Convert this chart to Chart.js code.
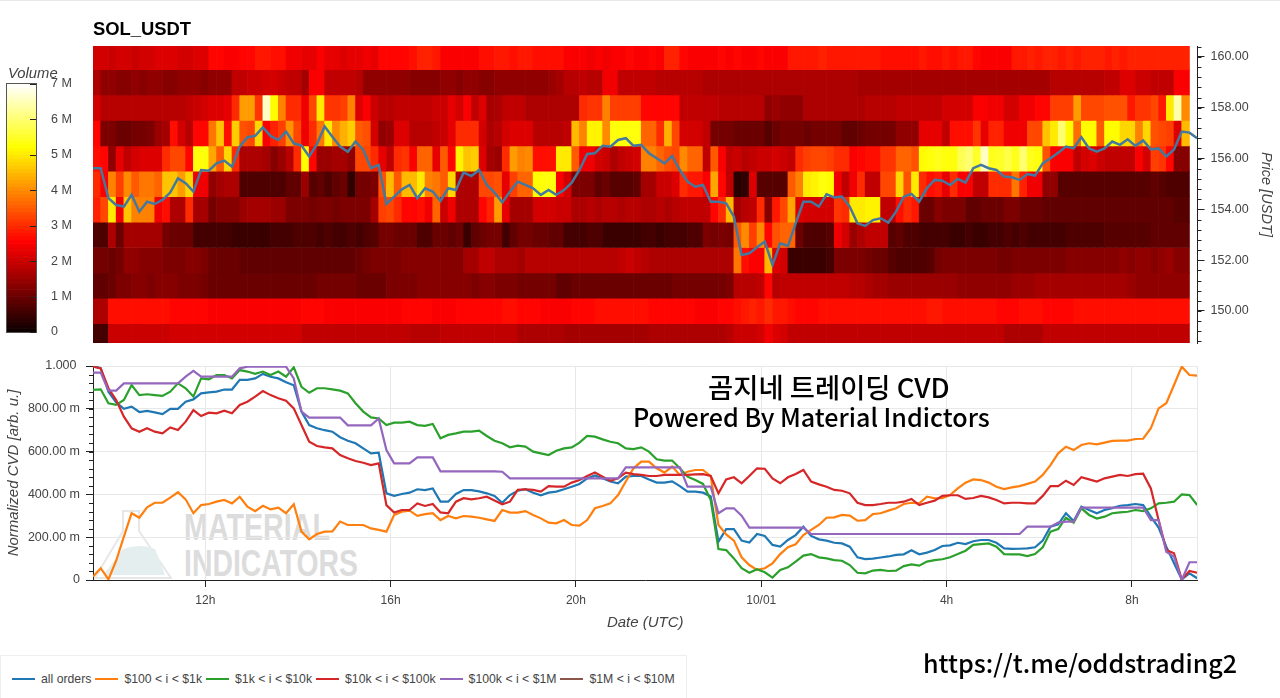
<!DOCTYPE html>
<html>
<head>
<meta charset="utf-8">
<title>SOL_USDT</title>
<script src="https://cdn.jsdelivr.net/npm/chart.js@4/dist/chart.umd.min.js"></script>
<style>
  html, body { margin: 0; padding: 0; background: #fff; width: 1280px; height: 698px; overflow: hidden; font-family: "Liberation Sans", sans-serif; }
  canvas, .txt, #leyenda, #marca, #franja { position: absolute; }
  #franja { left: 0; top: 0; width: 1280px; height: 1px; background: #e8e8e8; }
  #grafPrecio { left: 0; top: 0; z-index: 2; }
  #grafBarra { left: 0; top: 0; z-index: 3; }
  #grafCvd { left: 0; top: 350px; z-index: 2; }
  #marca { left: 93px; top: 505px; width: 300px; height: 76px; z-index: 1; }
  .txt { z-index: 4; white-space: nowrap; color: #000; }
  #titulo { left: 93px; top: 18px; font-size: 18.4px; font-weight: bold; }
  #volumen { left: 8px; top: 65px; font-size: 14.8px; font-style: italic; color: #444; }
  .cjk { font-family: "Noto Sans CJK KR", "Noto Sans", sans-serif; font-weight: 500; }
  #leyenda { left: 0; top: 655px; width: 687px; height: 43px; box-sizing: border-box; border: 1px solid #eee; border-bottom: 0; display: flex; align-items: center; padding: 3px 0 0 11px; font-size: 12.25px; color: #444; z-index: 4; }
  #leyenda i { display: inline-block; width: 23px; height: 2px; margin-right: 6px; }
  #leyenda span { margin-right: 4px; white-space: nowrap; }
</style>
</head>
<body>
<div id="franja"></div>
<div class="txt" id="titulo">SOL_USDT</div>
<div class="txt" id="volumen">Volume</div>
<svg id="marca" viewBox="0 0 300 76">
  <path d="M30 6 H46 V26 L78 73 H2 L30 26 Z" fill="none" stroke="#e6e8e8" stroke-width="2"/>
  <path d="M12 68 L30 44 Q48 38 62 44 L72 70 H10 Z" fill="#e4eeee"/>
  <text x="91" y="35" font-family="Liberation Sans" font-weight="bold" font-size="37" fill="#dcdcdc" textLength="146" lengthAdjust="spacingAndGlyphs">MATERIAL</text>
  <text x="91" y="71" font-family="Liberation Sans" font-weight="bold" font-size="37" fill="#dcdcdc" textLength="174" lengthAdjust="spacingAndGlyphs">INDICATORS</text>
</svg>
<canvas id="grafPrecio" width="1280" height="350"></canvas>
<canvas id="grafBarra" width="90" height="350"></canvas>
<canvas id="grafCvd" width="1280" height="300"></canvas>
<div class="txt cjk" style="left:708px;top:368px;font-size:27.4px;line-height:36px;">곰지네 트레이딩 CVD</div>
<div class="txt cjk" style="left:633px;top:398px;font-size:25.1px;line-height:36px;">Powered By Material Indictors</div>
<div class="txt cjk" style="left:923px;top:643px;font-size:25.1px;line-height:38px;">https://t.me/oddstrading2</div>
<div id="leyenda"></div>

<script>
// filas del mapa de calor, volumen en millones, una columna cada 10 min
const priceLevels = [160,159,158,157,156,155,154,153,152,151,150,149];

const row160 = [
2.1,2.1,2.0,2.1,2.1,2.0,2.1,2.1,2.2,2.2,
2.2,2.1,2.1,2.2,2.2,2.6,2.6,2.5,2.5,2.6,
2.6,2.8,2.8,2.7,2.7,2.4,2.4,2.3,2.3,2.5,
2.3,2.3,2.2,2.3,2.3,2.4,2.3,2.6,2.6,2.6,
2.6,2.7,2.9,2.9,2.8,2.5,2.5,2.5,2.5,2.5,
2.7,2.7,2.8,2.8,2.7,2.8,2.8,2.7,2.7,2.7,
2.7,2.5,2.5,2.5,2.4,2.5,2.4,2.5,2.5,2.6,
2.5,2.5,2.6,2.5,2.9,2.9,2.6,2.5,2.5,2.5,
2.5,2.6,2.5,2.6,2.5,2.5,2.6,2.5,2.5,2.5,
2.8,2.8,2.8,2.8,2.9,2.8,2.8,2.8,2.8,2.8,
2.8,2.8,2.7,2.7,2.7,2.7,2.7,2.8,2.7,2.7,
2.8,2.7,2.8,2.8,2.6,2.5,2.5,2.5,2.5,2.8,
2.8,2.9,2.8,2.9,2.9,2.8,2.9,2.8,2.9,2.9,
2.9,2.8,2.9,2.8,2.9,2.9,2.9,2.9,2.9,2.9,
2.9,2.9];
const row159 = [
1.7,1.4,1.4,1.3,1.3,1.4,1.3,1.4,1.4,1.3,
1.3,1.4,1.4,1.4,1.3,1.4,1.4,1.4,1.9,1.9,
2.0,2.0,2.1,2.1,2.0,1.9,1.9,1.6,2.5,2.5,
1.9,1.9,1.9,1.9,1.8,1.4,1.4,1.4,1.4,1.4,
1.4,1.3,1.3,1.3,1.3,1.4,1.4,1.3,1.4,1.4,
1.3,1.3,1.4,1.4,1.4,1.4,1.4,1.4,1.4,1.5,
1.6,1.8,1.8,1.9,1.8,1.8,2.4,2.4,1.9,1.9,
1.9,1.9,1.9,1.8,1.8,1.8,1.8,1.8,1.8,1.7,
1.7,1.7,1.7,1.7,1.7,1.7,1.7,1.7,1.7,1.7,
1.7,1.7,1.7,1.7,1.7,1.7,1.7,1.7,1.7,1.6,
1.6,1.6,1.6,1.6,1.6,1.6,1.6,1.6,1.6,1.6,
1.6,1.6,1.6,1.6,1.6,1.6,1.6,1.6,1.6,1.6,
1.6,1.6,1.6,1.6,1.8,1.8,1.8,1.8,1.8,1.8,
1.8,1.9,1.9,2.2,2.2,2.0,2.0,1.9,1.9,1.9,
2.5,2.5];
const row158 = [
2.1,1.8,1.8,1.8,1.8,1.8,1.8,1.8,1.8,1.8,
1.8,1.8,1.9,2.0,2.1,2.2,2.2,2.3,3.0,4.2,
4.2,3.1,6.6,5.2,3.9,3.0,3.0,2.4,3.3,5.0,
3.1,3.1,3.2,3.9,2.2,2.5,2.0,1.8,1.8,1.9,
1.9,1.9,1.9,1.9,2.0,2.0,2.3,2.1,2.5,1.9,
2.2,1.6,1.7,1.9,1.9,1.9,1.7,1.7,1.7,1.7,
1.7,1.7,1.7,3.0,3.1,3.1,3.9,3.2,3.2,3.2,
3.2,2.6,2.6,2.6,2.6,2.6,1.9,1.9,1.9,1.9,
1.9,1.8,1.8,1.8,1.8,1.8,1.8,1.4,1.5,1.4,
1.4,1.4,1.7,1.7,1.7,1.7,1.7,1.7,1.7,1.7,
1.8,1.8,1.8,1.8,1.9,1.9,1.9,1.9,1.9,1.9,
2.1,2.1,2.1,2.1,2.5,2.5,2.4,2.4,2.1,2.1,
2.4,2.4,2.6,2.6,3.2,3.2,3.2,4.2,3.3,3.3,
3.3,3.4,3.4,3.4,2.8,3.1,3.1,3.3,2.8,5.0,
6.4,4.0];
const row157 = [
2.6,1.2,1.2,1.0,1.0,1.1,1.1,1.2,1.5,1.6,
2.7,2.1,1.8,2.6,2.6,3.8,4.6,2.7,4.7,3.4,
3.3,4.8,2.5,2.9,3.2,4.1,3.3,2.4,3.0,3.8,
5.0,4.0,4.4,4.7,3.5,3.4,2.1,1.4,1.5,2.2,
2.2,1.8,1.8,1.8,1.9,2.0,2.3,3.0,3.0,3.0,
2.1,1.7,1.8,2.1,2.2,2.2,2.2,1.8,1.8,1.8,
1.8,1.9,4.5,3.9,5.1,5.1,4.0,5.3,5.3,5.3,
5.3,3.6,3.6,3.0,4.4,3.3,2.1,2.1,2.1,1.9,
1.1,1.1,1.1,1.0,1.0,1.0,1.0,0.8,1.0,1.1,
1.1,1.1,1.0,1.1,1.1,1.1,1.1,0.9,0.9,1.0,
1.1,1.1,1.1,1.1,1.4,1.4,1.4,2.3,2.3,2.3,
1.9,2.7,2.7,2.7,3.1,2.3,2.9,2.9,2.4,2.4,
2.4,3.3,3.3,4.6,5.0,6.0,5.2,3.7,5.2,5.2,
3.5,5.2,5.2,4.8,4.8,3.9,4.8,3.4,3.3,3.2,
2.2,4.5];
const row156 = [
2.7,2.6,1.4,2.3,1.9,2.1,2.2,2.2,2.2,3.0,
3.3,3.3,2.6,5.3,5.3,4.3,3.5,4.8,3.0,1.7,
1.7,1.7,1.6,1.3,1.5,1.8,3.0,5.2,2.6,1.5,
1.5,1.6,1.6,1.4,3.3,3.3,3.0,2.3,1.9,3.0,
3.1,2.5,3.6,3.6,2.3,3.5,2.6,5.1,4.6,4.7,
2.2,1.6,1.5,3.0,4.2,3.9,4.0,2.7,2.7,2.7,
5.0,5.0,3.5,2.4,2.4,2.1,2.0,1.7,1.9,2.0,
2.1,3.9,3.9,3.6,3.4,3.3,4.0,3.6,3.6,1.9,
3.5,2.5,1.9,2.0,1.8,1.9,2.0,2.0,2.1,2.0,
1.9,3.0,3.2,3.3,3.3,3.2,3.0,3.0,2.5,2.6,
2.7,2.7,3.1,3.1,3.6,3.6,3.4,5.2,5.3,5.4,
5.3,5.3,5.8,6.0,5.5,6.6,5.4,5.5,5.7,5.4,
6.0,5.4,5.3,3.4,2.5,2.5,2.5,1.9,2.1,2.2,
2.0,1.9,1.9,1.9,1.9,2.5,2.1,3.2,3.1,2.6,
1.3,1.3];
const row155 = [
3.0,2.5,3.9,3.2,4.0,3.5,3.8,3.8,3.6,4.6,
4.6,4.2,4.8,2.4,2.4,1.4,1.6,1.7,1.7,0.7,
0.7,0.7,0.7,0.7,0.7,0.9,0.9,1.5,0.8,0.9,
0.7,0.9,1.0,0.4,1.1,1.1,1.2,3.4,4.5,3.5,
4.5,4.5,5.0,3.9,3.8,3.5,4.8,1.7,1.7,1.7,
3.3,3.3,3.4,2.3,3.2,3.6,3.6,5.2,5.3,5.3,
2.5,2.1,1.2,1.2,1.2,0.9,1.0,0.8,0.8,0.8,
0.9,1.6,1.6,2.0,2.0,2.2,3.0,2.8,2.8,2.5,
4.3,2.6,1.9,0.3,0.4,2.2,0.8,0.8,0.8,0.8,
3.5,3.9,5.0,5.1,5.3,5.2,2.4,1.9,2.4,3.0,
1.9,1.9,3.3,3.3,4.8,3.4,5.0,3.0,2.7,2.8,
2.3,3.0,2.5,2.5,1.9,1.9,3.0,3.0,3.0,3.8,
2.9,2.4,2.4,1.4,1.4,0.8,0.8,0.8,0.8,0.8,
0.8,0.8,0.8,0.8,0.8,0.8,0.8,0.9,0.8,0.7,
0.7,0.7];
const row154 = [
2.9,3.3,5.0,2.4,4.6,3.9,3.9,3.9,2.4,2.7,
1.7,1.7,3.0,1.6,1.6,1.1,1.3,1.3,1.3,1.5,
1.6,1.6,1.6,1.5,1.5,1.2,1.2,1.2,1.1,1.2,
1.2,1.1,1.2,1.2,1.2,1.2,1.6,3.2,3.3,3.0,
2.6,2.6,2.7,2.4,3.6,2.0,2.4,1.7,1.7,1.7,
2.6,2.9,4.2,2.3,1.6,1.6,1.6,2.1,2.1,2.1,
2.0,2.0,1.7,1.7,1.8,1.7,1.8,1.8,1.7,1.8,
1.8,1.7,1.7,1.8,1.7,1.8,1.9,1.9,1.9,1.9,
2.6,3.0,4.5,1.6,1.8,1.9,3.0,1.3,2.8,3.3,
4.3,2.2,2.1,2.1,2.1,2.1,3.1,3.0,5.0,5.0,
5.1,5.1,1.9,1.9,2.7,3.0,2.8,1.0,1.0,1.3,
1.2,1.2,1.2,0.9,0.9,1.0,1.0,1.0,1.2,1.2,
1.0,1.0,1.0,0.9,0.9,0.9,0.9,0.9,0.9,0.9,
0.9,0.9,0.9,0.9,0.9,0.9,0.9,0.9,0.9,0.9,
0.8,0.8];
const row153 = [
0.7,0.7,1.7,1.0,1.6,1.6,1.6,1.6,1.6,1.1,
1.0,1.0,1.0,0.6,0.6,0.6,0.6,0.6,0.5,0.5,
0.5,0.5,0.5,0.6,0.6,0.6,0.7,0.7,0.7,0.6,
0.7,0.6,0.6,0.7,0.6,0.7,0.8,1.1,1.1,1.0,
1.0,1.0,0.7,0.7,1.0,1.0,0.9,1.0,0.5,0.9,
1.0,1.1,1.1,0.6,0.9,1.1,1.1,1.0,1.0,0.9,
0.9,0.6,0.6,0.6,0.7,0.7,0.5,0.5,0.5,0.5,
0.5,0.6,0.6,0.5,0.6,0.6,0.6,0.7,0.7,1.2,
1.1,1.2,1.1,3.5,4.0,3.2,4.0,2.6,3.4,3.6,
3.6,1.0,0.7,0.7,0.7,0.8,2.4,2.1,1.5,1.7,
1.9,1.9,1.9,0.8,0.9,0.7,0.7,0.6,0.6,0.6,
0.6,0.5,0.5,0.6,0.5,0.5,0.6,0.6,0.7,0.6,
0.7,0.6,0.6,0.6,0.6,0.6,0.7,0.7,0.7,0.7,
0.7,0.8,0.8,0.8,0.8,0.8,0.8,0.9,0.9,0.9,
0.9,0.9];
const row152 = [
1.1,1.1,1.0,1.1,1.4,1.4,1.3,1.3,1.3,1.2,
1.2,1.2,1.3,1.3,1.2,1.0,1.0,1.0,1.0,0.9,
0.9,0.9,0.9,0.9,0.9,0.9,0.9,0.9,0.9,0.9,
0.9,0.9,0.9,0.9,1.0,1.1,1.2,1.2,1.2,1.2,
1.3,1.3,1.3,1.3,1.3,1.3,1.3,1.3,1.6,1.6,
1.9,1.9,1.7,1.7,1.7,1.6,1.8,1.8,1.8,1.8,
1.8,1.8,1.8,1.8,1.8,1.8,1.8,1.8,1.9,2.0,
1.9,1.8,1.7,1.7,1.7,1.7,1.7,1.7,1.7,1.7,
1.7,1.7,1.7,3.8,2.7,2.5,2.5,4.5,2.2,2.1,
0.5,0.5,0.5,0.5,0.5,0.6,1.2,1.2,1.2,1.2,
1.1,1.0,1.0,0.8,0.7,0.7,0.7,0.7,0.8,1.1,
1.2,1.2,1.2,1.2,1.2,1.2,1.2,1.1,1.1,1.2,
1.2,1.2,1.2,1.2,1.2,1.2,1.3,1.3,1.3,1.3,
1.3,1.3,1.3,1.4,1.3,1.4,1.4,1.3,1.4,1.5,
1.3,1.3];
const row151 = [
0.9,0.9,1.0,1.2,1.2,1.3,1.3,1.2,1.3,1.3,
1.3,1.2,1.2,1.2,1.1,1.0,1.0,1.0,1.0,1.0,
1.0,1.0,1.0,1.0,1.0,1.0,1.0,1.0,1.0,1.1,
1.1,1.1,1.1,1.1,1.0,1.0,1.0,1.0,1.2,1.2,
1.2,1.2,1.3,1.3,1.3,1.3,1.3,1.3,1.3,1.2,
1.3,1.3,1.2,1.2,1.2,1.1,1.1,1.1,1.1,1.1,
0.9,0.9,1.0,1.0,1.0,1.0,1.0,1.0,1.0,1.0,
1.0,1.0,1.0,1.0,1.0,1.1,1.1,1.1,1.1,1.1,
1.1,1.1,1.2,1.8,1.8,1.8,1.9,2.6,1.8,1.9,
1.9,1.9,1.9,1.9,1.9,1.9,1.9,1.9,1.8,1.8,
1.7,1.6,1.6,1.5,1.5,1.5,1.5,1.5,1.5,1.5,
1.5,1.5,1.4,1.4,1.4,1.4,1.4,1.4,1.4,1.5,
1.5,1.5,1.6,1.6,1.6,1.6,1.6,1.6,1.6,1.6,
1.6,1.6,1.6,1.6,1.5,1.4,1.4,1.4,1.4,1.4,
1.4,1.4];
const row150 = [
1.7,1.7,2.7,2.7,2.7,2.7,2.7,2.7,2.7,2.7,
2.6,2.6,2.6,2.6,2.6,2.5,2.5,2.5,2.5,2.5,
2.5,2.5,2.5,2.5,2.5,2.5,2.5,2.6,2.6,2.6,
2.5,2.5,2.5,2.5,2.5,2.5,2.5,2.5,2.5,2.5,
2.6,2.6,2.6,2.6,2.5,2.5,2.5,2.6,2.6,2.6,
2.6,2.6,2.6,2.7,2.7,2.6,2.6,2.6,2.5,2.5,
2.5,2.5,2.6,2.6,2.6,2.7,2.7,2.7,2.7,2.7,
2.7,2.7,2.6,2.6,2.6,2.6,2.6,2.6,2.5,2.5,
2.5,2.6,2.6,2.7,2.8,2.9,2.8,3.0,2.8,2.8,
2.7,2.6,2.6,2.6,2.7,2.7,2.7,2.7,2.7,2.7,
2.7,2.7,2.7,2.7,2.7,2.7,2.7,2.7,2.8,2.8,
2.7,2.7,2.7,2.7,2.7,2.7,2.7,2.6,2.6,2.6,
2.7,2.7,2.7,2.6,2.6,2.6,2.6,2.7,2.7,2.7,
2.7,2.7,2.7,2.7,2.7,2.7,2.7,2.7,2.7,2.7,
2.7,2.7];
const row149 = [
0.6,0.6,2.0,2.0,2.0,2.0,2.0,2.0,2.0,2.0,
2.1,2.1,2.1,2.1,2.1,2.1,2.1,2.1,2.1,2.1,
2.1,2.1,2.1,2.1,2.1,2.1,2.1,1.9,1.9,1.9,
1.9,1.9,1.9,1.9,1.9,1.9,1.9,1.9,1.9,1.9,
1.9,1.8,1.8,1.8,1.8,1.9,1.9,1.9,1.9,1.9,
1.9,1.9,1.9,1.9,1.9,1.7,1.7,1.7,1.7,1.7,
1.7,1.6,1.6,1.6,1.6,1.6,1.6,1.6,1.6,1.6,
1.6,1.6,1.7,1.7,1.7,1.7,1.7,1.7,1.7,1.7,
1.7,1.7,1.8,2.0,2.0,2.0,2.1,2.4,2.2,2.1,
1.9,1.9,1.9,1.9,1.9,1.9,1.9,1.9,1.9,1.9,
1.9,1.9,1.9,1.9,1.9,1.9,1.9,1.9,1.9,1.9,
1.9,1.9,1.9,1.9,1.9,1.9,1.9,1.9,1.7,1.7,
1.7,1.7,1.7,1.9,1.9,1.9,1.9,1.9,1.9,1.9,
1.9,1.9,1.9,1.9,1.9,1.9,1.9,1.9,1.9,1.9,
1.9,1.9];
const heatRows = [row160,row159,row158,row157,row156,row155,row154,row153,row152,row151,row150,row149];

// precio y CVD, una muestra cada 10 min
const priceLine = [
155.62,155.62,154.44,154.17,154.11,154.57,153.91,154.30,154.21,154.37,
154.66,155.22,155.03,154.70,155.55,155.52,155.81,155.92,155.68,156.47,
156.84,156.89,157.23,156.89,156.73,157.06,156.60,156.51,156.08,156.57,
157.26,156.86,156.47,156.27,156.67,156.34,155.62,155.75,154.21,154.50,
154.79,154.96,154.44,154.83,154.70,154.33,154.83,154.76,155.45,155.31,
155.55,154.96,154.66,154.27,154.70,155.09,154.96,154.83,154.57,154.76,
154.57,154.76,155.05,155.55,156.18,156.21,156.50,156.47,156.73,156.80,
156.50,156.54,156.21,156.01,155.81,156.10,155.55,155.09,154.89,154.96,
154.30,154.30,154.24,153.71,152.20,152.27,152.51,152.73,151.81,152.66,
152.56,153.45,154.30,154.30,154.11,154.59,154.47,154.50,154.11,153.45,
153.35,153.58,153.65,153.48,153.91,154.50,154.61,154.30,154.83,155.16,
155.13,154.96,155.20,155.05,155.62,155.75,155.62,155.55,155.29,155.26,
155.16,155.39,155.33,155.81,156.01,156.23,156.47,156.40,156.84,156.40,
156.27,156.40,156.67,156.54,156.76,156.50,156.71,156.36,156.40,156.08,
156.36,157.06,157.02,156.80];

const cvdAll = [
1.0,.99,.88,.83,.80,.81,.785,.79,.783,.775,
.80,.80,.833,.844,.872,.877,.88,.89,.89,.935,
.935,.942,.963,.95,.942,.924,.91,.787,.724,.709,
.70,.693,.667,.651,.639,.615,.592,.595,.405,.393,
.402,.408,.424,.42,.428,.366,.366,.402,.42,.42,
.414,.405,.393,.361,.397,.417,.424,.408,.396,.408,
.413,.424,.436,.449,.475,.489,.475,.46,.452,.483,
.486,.486,.47,.455,.455,.461,.439,.413,.413,.408,
.39,.179,.238,.238,.184,.175,.215,.206,.164,.156,
.187,.21,.249,.206,.19,.184,.174,.171,.156,.106,
.098,.10,.105,.11,.117,.12,.139,.12,.128,.14,
.159,.162,.174,.168,.181,.187,.187,.174,.148,.145,
.146,.148,.153,.184,.249,.26,.312,.276,.343,.327,
.312,.327,.336,.347,.35,.355,.35,.296,.245,.156,
.078,.003,.031,.008];
const cvd100 = [
.016,.055,.003,.09,.2025,.312,.291,.34,.361,.361,
.385,.41,.377,.312,.35,.355,.366,.374,.358,.389,
.343,.322,.347,.33,.338,.312,.354,.226,.19,.215,
.226,.227,.273,.257,.257,.257,.241,.234,.226,.304,
.319,.324,.30,.308,.312,.28,.299,.288,.299,.296,
.291,.283,.276,.327,.315,.315,.322,.304,.288,.268,
.265,.28,.257,.254,.28,.335,.346,.358,.397,.46,
.522,.553,.553,.522,.502,.53,.491,.506,.514,.514,
.486,.257,.213,.184,.106,.07,.047,.055,.078,.121,
.153,.167,.21,.234,.257,.291,.293,.304,.301,.277,
.28,.308,.312,.324,.335,.355,.361,.358,.389,.382,
.382,.397,.428,.455,.47,.467,.455,.436,.425,.433,
.439,.449,.46,.491,.537,.592,.623,.607,.631,.639,
.634,.642,.65,.651,.651,.659,.66,.709,.802,.826,
.911,.997,.958,.955];
const cvd1k = [
.888,.891,.826,.818,.841,.911,.864,.868,.864,.86,
.88,.919,.896,.857,.942,.938,.958,.958,.942,.981,
.974,.963,.974,.958,.974,.95,.994,.903,.875,.896,
.896,.891,.885,.872,.826,.787,.76,.755,.724,.735,
.735,.74,.724,.72,.729,.662,.678,.685,.693,.693,
.698,.673,.651,.639,.62,.628,.623,.60,.592,.584,
.604,.615,.62,.642,.673,.67,.657,.646,.639,.615,
.612,.62,.60,.564,.558,.558,.522,.483,.467,.449,
.374,.145,.14,.101,.055,.034,.05,.036,.011,.047,
.059,.086,.114,.121,.106,.101,.093,.09,.07,.034,
.031,.044,.047,.042,.044,.065,.073,.067,.086,.093,
.097,.106,.121,.137,.164,.168,.171,.156,.121,.12,
.12,.112,.121,.153,.226,.238,.291,.268,.335,.304,
.287,.296,.312,.316,.319,.327,.322,.335,.358,.361,
.366,.40,.397,.35];
const cvd10k = [
.997,.989,.896,.841,.763,.709,.693,.709,.693,.685,
.713,.701,.74,.794,.766,.782,.779,.791,.779,.818,
.833,.857,.883,.864,.849,.838,.802,.724,.646,.626,
.62,.615,.584,.569,.556,.548,.537,.545,.35,.315,
.327,.327,.358,.346,.355,.316,.312,.366,.382,.377,
.382,.389,.371,.354,.366,.421,.424,.421,.413,.439,
.436,.436,.455,.467,.486,.502,.483,.464,.475,.502,
.495,.491,.486,.486,.491,.491,.491,.491,.494,.495,
.486,.405,.47,.48,.452,.486,.522,.52,.475,.452,
.48,.495,.514,.46,.447,.436,.421,.417,.405,.361,
.35,.35,.355,.361,.361,.366,.379,.35,.361,.371,
.393,.396,.396,.379,.383,.393,.386,.374,.358,.361,
.361,.358,.358,.393,.439,.439,.464,.444,.48,.47,
.46,.475,.483,.491,.486,.495,.497,.428,.28,.14,
.125,.003,.042,.034];
const cvd100k = [
.969,.969,.885,.885,.919,.919,.919,.919,.919,.919,
.919,.919,.95,.977,.95,.95,.95,.95,.95,.989,
.997,.997,.997,.997,.997,.997,.942,.787,.759,.759,
.759,.759,.759,.723,.723,.723,.723,.755,.607,.545,
.545,.545,.573,.573,.573,.508,.508,.508,.508,.508,
.508,.508,.508,.506,.475,.475,.475,.475,.475,.475,
.475,.475,.475,.475,.475,.475,.475,.475,.475,.526,
.526,.526,.526,.526,.526,.526,.526,.436,.436,.436,
.436,.312,.335,.335,.301,.245,.245,.245,.245,.245,
.245,.245,.245,.215,.215,.215,.215,.215,.215,.215,
.215,.215,.215,.215,.215,.215,.215,.215,.215,.215,
.215,.215,.215,.215,.215,.215,.215,.215,.215,.215,
.215,.249,.249,.249,.249,.268,.273,.273,.338,.338,
.338,.338,.338,.338,.338,.338,.338,.28,.28,.132,
.109,0,.083,.083];
const cvd1m = [];

const seriesNames = ["all orders","$100 < i < $1k","$1k < i < $10k","$10k < i < $100k","$100k < i < $1M","$1M < i < $10M"];
const seriesColors = ["#1f77b4","#ff7f0e","#2ca02c","#d62728","#9467bd","#8c564b"];
const seriesValues = [cvdAll,cvd100,cvd1k,cvd10k,cvd100k,cvd1m];

const timeTicks = [12,16,20,24,28,32];
const timeLabels = ["12h","16h","20h","10/01","4h","8h"];
const priceTicks = [150,152,154,156,158,160];
const priceLabels = ["150.00","152.00","154.00","156.00","158.00","160.00"];
const cvdTicks = [0,0.2,0.4,0.6,0.8,1];
const cvdLabels = ["0","200.00 m","400.00 m","600.00 m","800.00 m","1.000 "];
const volumeTicks = [0,1,2,3,4,5,6,7];
const volumeLabels = ["0","1 M","2 M","3 M","4 M","5 M","6 M","7 M"];

const hourMin = 9.576;
const hourMax = 33.416;
const gris = "#444";
const oscuro = "#222";
const fuente = "'Liberation Sans', sans-serif";

const limitar = (v) => Math.max(0, Math.min(1, v));
// mapa "hot": negro, rojo, amarillo, blanco
const colorCalor = (v) => {
  const t = v / 7;
  const r = Math.round(255 * limitar(0.0416 + t / 0.365 * 0.9584));
  const g = Math.round(255 * limitar((t - 0.365) / 0.381));
  const b = Math.round(255 * limitar((t - 0.746) / 0.254));
  return `rgb(${r},${g},${b})`;
};
const horaMuestra = (i) => hourMin + i / 6;
const fijarTicks = (lista) => (scale) => { scale.ticks = lista.map((value) => ({ value })); };
const etiqueta = (valores, textos) => (v) => textos[valores.indexOf(v)];

// marcas menores de un eje, a partir de su escala
const marcasMenores = (scale, paso, inicio, fin, largo, ctx) => {
  ctx.save();
  ctx.strokeStyle = oscuro;
  ctx.lineWidth = 1;
  ctx.beginPath();
  for (let n = 0; inicio + n * paso <= fin + 1e-6; n++) {
    const p = scale.getPixelForValue(inicio + n * paso);
    if (scale.position === "right") {
      ctx.moveTo(scale.left, Math.round(p) + 0.5);
      ctx.lineTo(scale.left + largo, Math.round(p) + 0.5);
    } else {
      ctx.moveTo(scale.right, Math.round(p) + 0.5);
      ctx.lineTo(scale.right - largo, Math.round(p) + 0.5);
    }
  }
  ctx.stroke();
  ctx.restore();
};

const datasetsCalor = priceLevels.map((nivel, f) => ({
  type: "bar",
  order: 2,
  data: heatRows[f].map((v, c) => ({ x: horaMuestra(c + 0.5), y: [nivel - 0.5, nivel + 0.5] })),
  backgroundColor: heatRows[f].map(colorCalor),
  borderWidth: 0,
  barPercentage: 1,
  categoryPercentage: 1,
  grouped: false,
}));

new Chart(document.querySelector("#grafPrecio"), {
  type: "bar",
  data: {
    datasets: [
      ...datasetsCalor,
      {
        type: "line",
        order: 1,
        data: priceLine.map((y, i) => ({ x: horaMuestra(i), y })),
        borderColor: "#44789f",
        borderWidth: 2.5,
        pointRadius: 0,
        tension: 0,
      },
    ],
  },
  options: {
    responsive: false,
    animation: false,
    layout: { padding: { left: 93, top: 46, bottom: 7, right: 0 } },
    plugins: { legend: { display: false }, tooltip: { enabled: false } },
    scales: {
      x: { type: "linear", min: hourMin, max: hourMax, offset: false, display: false },
      y: {
        position: "right",
        min: 148.74,
        max: 160.43,
        afterFit: (scale) => { scale.width = 82.5; scale.paddingTop = 0; scale.paddingBottom = 0; },
        afterBuildTicks: fijarTicks(priceTicks),
        grid: { drawOnChartArea: false, tickLength: 7, tickColor: oscuro },
        border: { color: oscuro, width: 1 },
        ticks: {
          autoSkip: false,
          padding: 6,
          color: gris,
          font: { family: fuente, size: 12.5 },
          callback: etiqueta(priceTicks, priceLabels),
        },
        title: {
          display: true,
          text: "Price [USDT]",
          color: gris,
          padding: { top: 5, bottom: 0 },
          font: { family: fuente, size: 14.6, style: "italic" },
        },
      },
    },
  },
  plugins: [{
    id: "menoresPrecio",
    afterDraw: (chart) => marcasMenores(chart.scales.y, 0.4, 148.8, 160.4, 4, chart.ctx),
  }],
});

// barra de color, 70 tramos de 100k cada uno
const nivelesBarra = Array.from({ length: 70 }, (_, i) => (i + 0.5) / 10);
new Chart(document.querySelector("#grafBarra"), {
  type: "bar",
  data: {
    datasets: [{
      data: nivelesBarra.map((y) => ({ x: [0, 1], y })),
      backgroundColor: nivelesBarra.map(colorCalor),
      borderWidth: 0,
      barPercentage: 1,
      categoryPercentage: 1,
    }],
  },
  options: {
    indexAxis: "y",
    responsive: false,
    animation: false,
    layout: { padding: { left: 7, top: 84, bottom: 18, right: 0 } },
    plugins: { legend: { display: false }, tooltip: { enabled: false } },
    scales: {
      x: { type: "linear", min: 0, max: 1, display: false },
      y: {
        type: "linear",
        position: "right",
        min: 0,
        max: 7,
        offset: false,
        afterFit: (scale) => { scale.width = 54; scale.paddingTop = 0; scale.paddingBottom = 0; },
        afterBuildTicks: fijarTicks(volumeTicks),
        grid: { display: false, drawTicks: false },
        border: { display: false },
        ticks: {
          autoSkip: false,
          padding: 15,
          color: gris,
          font: { family: fuente, size: 12.5 },
          callback: etiqueta(volumeTicks, volumeLabels),
        },
      },
    },
  },
  plugins: [{
    id: "marcoBarra",
    afterDraw: (chart) => {
      const { ctx, chartArea: a, scales } = chart;
      ctx.save();
      ctx.strokeStyle = "#555";
      ctx.lineWidth = 1;
      ctx.strokeRect(a.left - 0.5, a.top - 0.5, a.right - a.left + 1, a.bottom - a.top + 1);
      ctx.strokeStyle = oscuro;
      ctx.beginPath();
      volumeTicks.forEach((v) => {
        const p = Math.round(scales.y.getPixelForValue(v)) + 0.5;
        ctx.moveTo(a.right - 6, p);
        ctx.lineTo(a.right, p);
      });
      ctx.stroke();
      ctx.restore();
    },
  }],
});

new Chart(document.querySelector("#grafCvd"), {
  type: "line",
  data: {
    datasets: seriesNames.map((nombre, s) => ({
      label: nombre,
      order: 6 - s,
      data: seriesValues[s].map((y, i) => ({ x: horaMuestra(i), y })),
      borderColor: seriesColors[s],
      borderWidth: 2.2,
      pointRadius: 0,
      tension: 0,
    })),
  },
  options: {
    responsive: false,
    animation: false,
    layout: { padding: { left: 0, top: 16, bottom: 0, right: 82.5 } },
    plugins: { legend: { display: false }, tooltip: { enabled: false } },
    scales: {
      x: {
        type: "linear",
        min: hourMin,
        max: hourMax,
        afterFit: (scale) => { scale.height = 70; },
        afterBuildTicks: fijarTicks(timeTicks),
        grid: { color: "#e8e8e8", tickLength: 7, tickColor: oscuro },
        border: { color: oscuro, width: 1 },
        ticks: {
          autoSkip: false,
          maxRotation: 0,
          padding: 6,
          color: gris,
          font: { family: fuente, size: 12 },
          callback: etiqueta(timeTicks, timeLabels),
        },
        title: {
          display: true,
          text: "Date (UTC)",
          color: gris,
          padding: { top: 0, bottom: 18 },
          font: { family: fuente, size: 15, style: "italic" },
        },
      },
      y: {
        min: 0,
        max: 1,
        afterFit: (scale) => { scale.width = 93; },
        afterBuildTicks: fijarTicks(cvdTicks),
        grid: { color: "#e8e8e8", tickLength: 7, tickColor: oscuro },
        border: { color: oscuro, width: 1 },
        ticks: {
          autoSkip: false,
          padding: 6,
          color: gris,
          font: { family: fuente, size: 12.5 },
          callback: etiqueta(cvdTicks, cvdLabels),
        },
        title: {
          display: true,
          text: "Normalized CVD [arb. u.]",
          color: gris,
          padding: { top: 5, bottom: 0 },
          font: { family: fuente, size: 15, style: "italic" },
        },
      },
    },
  },
  plugins: [{
    id: "menoresCvd",
    afterDraw: (chart) => {
      const { ctx, chartArea: a } = chart;
      marcasMenores(chart.scales.y, 0.04, 0, 1, 4, ctx);
      ctx.save();
      ctx.strokeStyle = "#e8e8e8";
      ctx.beginPath();
      ctx.moveTo(a.right, a.top);
      ctx.lineTo(a.right, a.bottom);
      ctx.stroke();
      ctx.restore();
    },
  }],
});

// leyenda
let html = "";
seriesNames.forEach((nombre, s) => {
  html += `<i style="background:${seriesColors[s]}"></i><span>${nombre.replace(/</g, "&lt;")}</span>`;
});
document.querySelector("#leyenda").innerHTML = html;
</script>
</body>
</html>
